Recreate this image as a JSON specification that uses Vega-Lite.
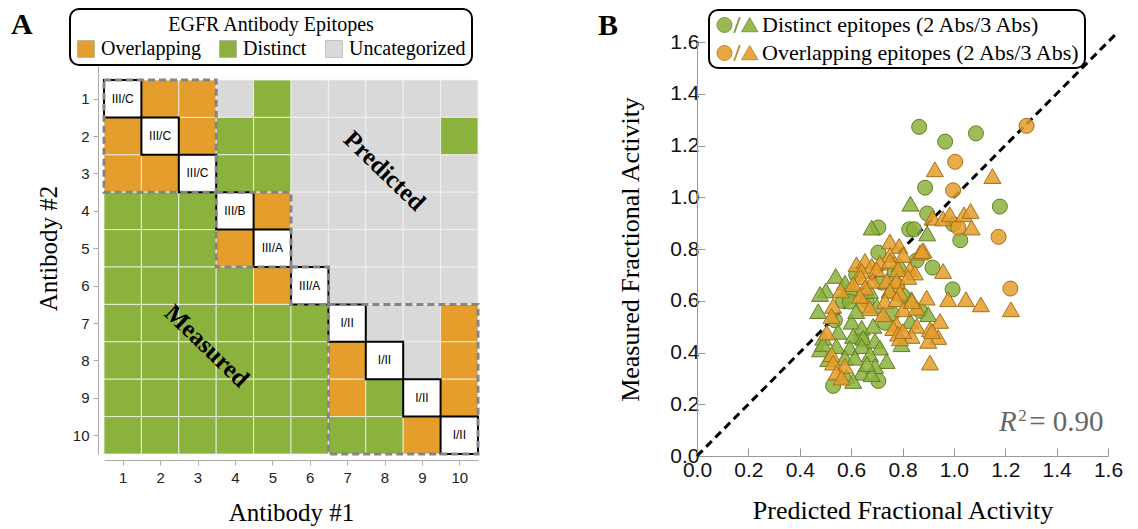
{
  "$schema": "https://vega.github.io/schema/vega-lite/v6.json",
  "padding": {"left": 11, "top": 8, "right": 5, "bottom": 3},
  "spacing": 118,
  "resolve": {"scale": {"color": "independent", "stroke": "independent", "shape": "independent", "size": "independent"}, "legend": {"color": "independent", "stroke": "independent", "shape": "independent", "size": "independent"}},
  "config": {"view": {"stroke": null}, "font": "Liberation Serif", "legend": {"strokeWidth": 2}},
  "datasets": {
    "cells": [
      {"ab1":1,"ab2":1,"epitope":"Self","label":"III/C"},{"ab1":2,"ab2":1,"epitope":"Overlapping"},{"ab1":3,"ab2":1,"epitope":"Overlapping"},{"ab1":4,"ab2":1,"epitope":"Uncategorized"},{"ab1":5,"ab2":1,"epitope":"Distinct"},{"ab1":6,"ab2":1,"epitope":"Uncategorized"},{"ab1":7,"ab2":1,"epitope":"Uncategorized"},{"ab1":8,"ab2":1,"epitope":"Uncategorized"},{"ab1":9,"ab2":1,"epitope":"Uncategorized"},{"ab1":10,"ab2":1,"epitope":"Uncategorized"},
      {"ab1":1,"ab2":2,"epitope":"Overlapping"},{"ab1":2,"ab2":2,"epitope":"Self","label":"III/C"},{"ab1":3,"ab2":2,"epitope":"Overlapping"},{"ab1":4,"ab2":2,"epitope":"Distinct"},{"ab1":5,"ab2":2,"epitope":"Distinct"},{"ab1":6,"ab2":2,"epitope":"Uncategorized"},{"ab1":7,"ab2":2,"epitope":"Uncategorized"},{"ab1":8,"ab2":2,"epitope":"Uncategorized"},{"ab1":9,"ab2":2,"epitope":"Uncategorized"},{"ab1":10,"ab2":2,"epitope":"Distinct"},
      {"ab1":1,"ab2":3,"epitope":"Overlapping"},{"ab1":2,"ab2":3,"epitope":"Overlapping"},{"ab1":3,"ab2":3,"epitope":"Self","label":"III/C"},{"ab1":4,"ab2":3,"epitope":"Distinct"},{"ab1":5,"ab2":3,"epitope":"Distinct"},{"ab1":6,"ab2":3,"epitope":"Uncategorized"},{"ab1":7,"ab2":3,"epitope":"Uncategorized"},{"ab1":8,"ab2":3,"epitope":"Uncategorized"},{"ab1":9,"ab2":3,"epitope":"Uncategorized"},{"ab1":10,"ab2":3,"epitope":"Uncategorized"},
      {"ab1":1,"ab2":4,"epitope":"Distinct"},{"ab1":2,"ab2":4,"epitope":"Distinct"},{"ab1":3,"ab2":4,"epitope":"Distinct"},{"ab1":4,"ab2":4,"epitope":"Self","label":"III/B"},{"ab1":5,"ab2":4,"epitope":"Overlapping"},{"ab1":6,"ab2":4,"epitope":"Uncategorized"},{"ab1":7,"ab2":4,"epitope":"Uncategorized"},{"ab1":8,"ab2":4,"epitope":"Uncategorized"},{"ab1":9,"ab2":4,"epitope":"Uncategorized"},{"ab1":10,"ab2":4,"epitope":"Uncategorized"},
      {"ab1":1,"ab2":5,"epitope":"Distinct"},{"ab1":2,"ab2":5,"epitope":"Distinct"},{"ab1":3,"ab2":5,"epitope":"Distinct"},{"ab1":4,"ab2":5,"epitope":"Overlapping"},{"ab1":5,"ab2":5,"epitope":"Self","label":"III/A"},{"ab1":6,"ab2":5,"epitope":"Uncategorized"},{"ab1":7,"ab2":5,"epitope":"Uncategorized"},{"ab1":8,"ab2":5,"epitope":"Uncategorized"},{"ab1":9,"ab2":5,"epitope":"Uncategorized"},{"ab1":10,"ab2":5,"epitope":"Uncategorized"},
      {"ab1":1,"ab2":6,"epitope":"Distinct"},{"ab1":2,"ab2":6,"epitope":"Distinct"},{"ab1":3,"ab2":6,"epitope":"Distinct"},{"ab1":4,"ab2":6,"epitope":"Distinct"},{"ab1":5,"ab2":6,"epitope":"Overlapping"},{"ab1":6,"ab2":6,"epitope":"Self","label":"III/A"},{"ab1":7,"ab2":6,"epitope":"Uncategorized"},{"ab1":8,"ab2":6,"epitope":"Uncategorized"},{"ab1":9,"ab2":6,"epitope":"Uncategorized"},{"ab1":10,"ab2":6,"epitope":"Uncategorized"},
      {"ab1":1,"ab2":7,"epitope":"Distinct"},{"ab1":2,"ab2":7,"epitope":"Distinct"},{"ab1":3,"ab2":7,"epitope":"Distinct"},{"ab1":4,"ab2":7,"epitope":"Distinct"},{"ab1":5,"ab2":7,"epitope":"Distinct"},{"ab1":6,"ab2":7,"epitope":"Distinct"},{"ab1":7,"ab2":7,"epitope":"Self","label":"I/II"},{"ab1":8,"ab2":7,"epitope":"Uncategorized"},{"ab1":9,"ab2":7,"epitope":"Uncategorized"},{"ab1":10,"ab2":7,"epitope":"Overlapping"},
      {"ab1":1,"ab2":8,"epitope":"Distinct"},{"ab1":2,"ab2":8,"epitope":"Distinct"},{"ab1":3,"ab2":8,"epitope":"Distinct"},{"ab1":4,"ab2":8,"epitope":"Distinct"},{"ab1":5,"ab2":8,"epitope":"Distinct"},{"ab1":6,"ab2":8,"epitope":"Distinct"},{"ab1":7,"ab2":8,"epitope":"Overlapping"},{"ab1":8,"ab2":8,"epitope":"Self","label":"I/II"},{"ab1":9,"ab2":8,"epitope":"Uncategorized"},{"ab1":10,"ab2":8,"epitope":"Overlapping"},
      {"ab1":1,"ab2":9,"epitope":"Distinct"},{"ab1":2,"ab2":9,"epitope":"Distinct"},{"ab1":3,"ab2":9,"epitope":"Distinct"},{"ab1":4,"ab2":9,"epitope":"Distinct"},{"ab1":5,"ab2":9,"epitope":"Distinct"},{"ab1":6,"ab2":9,"epitope":"Distinct"},{"ab1":7,"ab2":9,"epitope":"Overlapping"},{"ab1":8,"ab2":9,"epitope":"Distinct"},{"ab1":9,"ab2":9,"epitope":"Self","label":"I/II"},{"ab1":10,"ab2":9,"epitope":"Overlapping"},
      {"ab1":1,"ab2":10,"epitope":"Distinct"},{"ab1":2,"ab2":10,"epitope":"Distinct"},{"ab1":3,"ab2":10,"epitope":"Distinct"},{"ab1":4,"ab2":10,"epitope":"Distinct"},{"ab1":5,"ab2":10,"epitope":"Distinct"},{"ab1":6,"ab2":10,"epitope":"Distinct"},{"ab1":7,"ab2":10,"epitope":"Distinct"},{"ab1":8,"ab2":10,"epitope":"Distinct"},{"ab1":9,"ab2":10,"epitope":"Overlapping"},{"ab1":10,"ab2":10,"epitope":"Self","label":"I/II"}
    ],
    "blocks": [
      {"first":1,"last":3},{"first":4,"last":5},{"first":6,"last":6},{"first":7,"last":10}
    ],
    "regions": [
      {"ab1":8.0,"ab2":2.93,"text":"Predicted"},
      {"ab1":3.25,"ab2":7.61,"text":"Measured"}
    ],
    "points": [
      {"pred":0.865,"meas":1.272,"epi":"Distinct","abs":"2 Abs"},
      {"pred":1.086,"meas":1.247,"epi":"Distinct","abs":"2 Abs"},
      {"pred":0.966,"meas":1.215,"epi":"Distinct","abs":"2 Abs"},
      {"pred":0.888,"meas":1.037,"epi":"Distinct","abs":"2 Abs"},
      {"pred":1.179,"meas":0.964,"epi":"Distinct","abs":"2 Abs"},
      {"pred":0.896,"meas":0.937,"epi":"Distinct","abs":"2 Abs"},
      {"pred":0.997,"meas":0.896,"epi":"Distinct","abs":"2 Abs"},
      {"pred":0.706,"meas":0.883,"epi":"Distinct","abs":"2 Abs"},
      {"pred":0.826,"meas":0.876,"epi":"Distinct","abs":"2 Abs"},
      {"pred":0.845,"meas":0.876,"epi":"Distinct","abs":"2 Abs"},
      {"pred":1.025,"meas":0.834,"epi":"Distinct","abs":"2 Abs"},
      {"pred":0.706,"meas":0.786,"epi":"Distinct","abs":"2 Abs"},
      {"pred":0.855,"meas":0.756,"epi":"Distinct","abs":"2 Abs"},
      {"pred":0.917,"meas":0.728,"epi":"Distinct","abs":"2 Abs"},
      {"pred":0.77,"meas":0.71,"epi":"Distinct","abs":"2 Abs"},
      {"pred":0.719,"meas":0.67,"epi":"Distinct","abs":"2 Abs"},
      {"pred":0.995,"meas":0.644,"epi":"Distinct","abs":"2 Abs"},
      {"pred":0.595,"meas":0.638,"epi":"Distinct","abs":"2 Abs"},
      {"pred":0.569,"meas":0.599,"epi":"Distinct","abs":"2 Abs"},
      {"pred":0.595,"meas":0.597,"epi":"Distinct","abs":"2 Abs"},
      {"pred":0.537,"meas":0.524,"epi":"Distinct","abs":"2 Abs"},
      {"pred":0.868,"meas":0.561,"epi":"Distinct","abs":"2 Abs"},
      {"pred":0.732,"meas":0.515,"epi":"Distinct","abs":"2 Abs"},
      {"pred":0.53,"meas":0.271,"epi":"Distinct","abs":"2 Abs"},
      {"pred":0.706,"meas":0.29,"epi":"Distinct","abs":"2 Abs"},
      {"pred":0.62,"meas":0.7,"epi":"Distinct","abs":"2 Abs"},
      {"pred":0.66,"meas":0.6,"epi":"Distinct","abs":"2 Abs"},
      {"pred":0.8,"meas":0.62,"epi":"Distinct","abs":"2 Abs"},
      {"pred":0.64,"meas":0.45,"epi":"Distinct","abs":"2 Abs"},
      {"pred":0.76,"meas":0.55,"epi":"Distinct","abs":"2 Abs"},
      {"pred":1.283,"meas":1.276,"epi":"Overlapping","abs":"2 Abs"},
      {"pred":1.005,"meas":1.137,"epi":"Overlapping","abs":"2 Abs"},
      {"pred":0.997,"meas":1.027,"epi":"Overlapping","abs":"2 Abs"},
      {"pred":1.017,"meas":0.883,"epi":"Overlapping","abs":"2 Abs"},
      {"pred":1.174,"meas":0.847,"epi":"Overlapping","abs":"2 Abs"},
      {"pred":1.22,"meas":0.647,"epi":"Overlapping","abs":"2 Abs"},
      {"pred":0.78,"meas":0.66,"epi":"Overlapping","abs":"2 Abs"},
      {"pred":0.65,"meas":0.58,"epi":"Overlapping","abs":"2 Abs"},
      {"pred":0.831,"meas":0.975,"epi":"Distinct","abs":"3 Abs"},
      {"pred":0.68,"meas":0.883,"epi":"Distinct","abs":"3 Abs"},
      {"pred":0.896,"meas":0.86,"epi":"Distinct","abs":"3 Abs"},
      {"pred":0.79,"meas":0.741,"epi":"Distinct","abs":"3 Abs"},
      {"pred":0.54,"meas":0.696,"epi":"Distinct","abs":"3 Abs"},
      {"pred":0.576,"meas":0.67,"epi":"Distinct","abs":"3 Abs"},
      {"pred":0.502,"meas":0.64,"epi":"Distinct","abs":"3 Abs"},
      {"pred":0.479,"meas":0.626,"epi":"Distinct","abs":"3 Abs"},
      {"pred":0.673,"meas":0.638,"epi":"Distinct","abs":"3 Abs"},
      {"pred":0.472,"meas":0.56,"epi":"Distinct","abs":"3 Abs"},
      {"pred":0.602,"meas":0.519,"epi":"Distinct","abs":"3 Abs"},
      {"pred":0.835,"meas":0.606,"epi":"Distinct","abs":"3 Abs"},
      {"pred":0.9,"meas":0.548,"epi":"Distinct","abs":"3 Abs"},
      {"pred":0.83,"meas":0.522,"epi":"Distinct","abs":"3 Abs"},
      {"pred":0.641,"meas":0.496,"epi":"Distinct","abs":"3 Abs"},
      {"pred":0.686,"meas":0.503,"epi":"Distinct","abs":"3 Abs"},
      {"pred":0.796,"meas":0.432,"epi":"Distinct","abs":"3 Abs"},
      {"pred":0.608,"meas":0.464,"epi":"Distinct","abs":"3 Abs"},
      {"pred":0.492,"meas":0.457,"epi":"Distinct","abs":"3 Abs"},
      {"pred":0.647,"meas":0.457,"epi":"Distinct","abs":"3 Abs"},
      {"pred":0.693,"meas":0.445,"epi":"Distinct","abs":"3 Abs"},
      {"pred":0.479,"meas":0.412,"epi":"Distinct","abs":"3 Abs"},
      {"pred":0.543,"meas":0.425,"epi":"Distinct","abs":"3 Abs"},
      {"pred":0.595,"meas":0.419,"epi":"Distinct","abs":"3 Abs"},
      {"pred":0.641,"meas":0.425,"epi":"Distinct","abs":"3 Abs"},
      {"pred":0.712,"meas":0.419,"epi":"Distinct","abs":"3 Abs"},
      {"pred":0.511,"meas":0.374,"epi":"Distinct","abs":"3 Abs"},
      {"pred":0.576,"meas":0.38,"epi":"Distinct","abs":"3 Abs"},
      {"pred":0.615,"meas":0.38,"epi":"Distinct","abs":"3 Abs"},
      {"pred":0.673,"meas":0.393,"epi":"Distinct","abs":"3 Abs"},
      {"pred":0.738,"meas":0.367,"epi":"Distinct","abs":"3 Abs"},
      {"pred":0.693,"meas":0.348,"epi":"Distinct","abs":"3 Abs"},
      {"pred":0.641,"meas":0.322,"epi":"Distinct","abs":"3 Abs"},
      {"pred":0.582,"meas":0.309,"epi":"Distinct","abs":"3 Abs"},
      {"pred":0.608,"meas":0.29,"epi":"Distinct","abs":"3 Abs"},
      {"pred":0.68,"meas":0.316,"epi":"Distinct","abs":"3 Abs"},
      {"pred":0.662,"meas":0.356,"epi":"Distinct","abs":"3 Abs"},
      {"pred":0.49,"meas":0.433,"epi":"Distinct","abs":"3 Abs"},
      {"pred":0.7,"meas":0.58,"epi":"Distinct","abs":"3 Abs"},
      {"pred":0.75,"meas":0.64,"epi":"Distinct","abs":"3 Abs"},
      {"pred":0.62,"meas":0.56,"epi":"Distinct","abs":"3 Abs"},
      {"pred":0.55,"meas":0.48,"epi":"Distinct","abs":"3 Abs"},
      {"pred":0.926,"meas":1.108,"epi":"Overlapping","abs":"3 Abs"},
      {"pred":1.15,"meas":1.082,"epi":"Overlapping","abs":"3 Abs"},
      {"pred":0.917,"meas":0.921,"epi":"Overlapping","abs":"3 Abs"},
      {"pred":0.958,"meas":0.918,"epi":"Overlapping","abs":"3 Abs"},
      {"pred":0.984,"meas":0.934,"epi":"Overlapping","abs":"3 Abs"},
      {"pred":1.039,"meas":0.934,"epi":"Overlapping","abs":"3 Abs"},
      {"pred":1.065,"meas":0.947,"epi":"Overlapping","abs":"3 Abs"},
      {"pred":1.069,"meas":0.883,"epi":"Overlapping","abs":"3 Abs"},
      {"pred":0.751,"meas":0.829,"epi":"Overlapping","abs":"3 Abs"},
      {"pred":0.787,"meas":0.812,"epi":"Overlapping","abs":"3 Abs"},
      {"pred":0.881,"meas":0.795,"epi":"Overlapping","abs":"3 Abs"},
      {"pred":0.751,"meas":0.777,"epi":"Overlapping","abs":"3 Abs"},
      {"pred":0.803,"meas":0.777,"epi":"Overlapping","abs":"3 Abs"},
      {"pred":0.868,"meas":0.786,"epi":"Overlapping","abs":"3 Abs"},
      {"pred":0.621,"meas":0.741,"epi":"Overlapping","abs":"3 Abs"},
      {"pred":0.654,"meas":0.754,"epi":"Overlapping","abs":"3 Abs"},
      {"pred":0.68,"meas":0.735,"epi":"Overlapping","abs":"3 Abs"},
      {"pred":0.712,"meas":0.747,"epi":"Overlapping","abs":"3 Abs"},
      {"pred":0.641,"meas":0.715,"epi":"Overlapping","abs":"3 Abs"},
      {"pred":0.699,"meas":0.722,"epi":"Overlapping","abs":"3 Abs"},
      {"pred":0.751,"meas":0.754,"epi":"Overlapping","abs":"3 Abs"},
      {"pred":0.958,"meas":0.715,"epi":"Overlapping","abs":"3 Abs"},
      {"pred":0.829,"meas":0.722,"epi":"Overlapping","abs":"3 Abs"},
      {"pred":0.783,"meas":0.722,"epi":"Overlapping","abs":"3 Abs"},
      {"pred":0.848,"meas":0.709,"epi":"Overlapping","abs":"3 Abs"},
      {"pred":0.637,"meas":0.692,"epi":"Overlapping","abs":"3 Abs"},
      {"pred":0.684,"meas":0.677,"epi":"Overlapping","abs":"3 Abs"},
      {"pred":0.608,"meas":0.664,"epi":"Overlapping","abs":"3 Abs"},
      {"pred":0.654,"meas":0.651,"epi":"Overlapping","abs":"3 Abs"},
      {"pred":0.738,"meas":0.677,"epi":"Overlapping","abs":"3 Abs"},
      {"pred":0.777,"meas":0.677,"epi":"Overlapping","abs":"3 Abs"},
      {"pred":0.822,"meas":0.692,"epi":"Overlapping","abs":"3 Abs"},
      {"pred":0.751,"meas":0.638,"epi":"Overlapping","abs":"3 Abs"},
      {"pred":0.79,"meas":0.631,"epi":"Overlapping","abs":"3 Abs"},
      {"pred":0.978,"meas":0.606,"epi":"Overlapping","abs":"3 Abs"},
      {"pred":1.047,"meas":0.606,"epi":"Overlapping","abs":"3 Abs"},
      {"pred":1.105,"meas":0.586,"epi":"Overlapping","abs":"3 Abs"},
      {"pred":1.222,"meas":0.567,"epi":"Overlapping","abs":"3 Abs"},
      {"pred":0.559,"meas":0.64,"epi":"Overlapping","abs":"3 Abs"},
      {"pred":0.634,"meas":0.619,"epi":"Overlapping","abs":"3 Abs"},
      {"pred":0.53,"meas":0.58,"epi":"Overlapping","abs":"3 Abs"},
      {"pred":0.524,"meas":0.541,"epi":"Overlapping","abs":"3 Abs"},
      {"pred":0.673,"meas":0.571,"epi":"Overlapping","abs":"3 Abs"},
      {"pred":0.732,"meas":0.599,"epi":"Overlapping","abs":"3 Abs"},
      {"pred":0.777,"meas":0.606,"epi":"Overlapping","abs":"3 Abs"},
      {"pred":0.894,"meas":0.612,"epi":"Overlapping","abs":"3 Abs"},
      {"pred":0.803,"meas":0.567,"epi":"Overlapping","abs":"3 Abs"},
      {"pred":0.855,"meas":0.573,"epi":"Overlapping","abs":"3 Abs"},
      {"pred":0.946,"meas":0.522,"epi":"Overlapping","abs":"3 Abs"},
      {"pred":0.777,"meas":0.509,"epi":"Overlapping","abs":"3 Abs"},
      {"pred":0.764,"meas":0.494,"epi":"Overlapping","abs":"3 Abs"},
      {"pred":0.783,"meas":0.473,"epi":"Overlapping","abs":"3 Abs"},
      {"pred":0.855,"meas":0.503,"epi":"Overlapping","abs":"3 Abs"},
      {"pred":0.907,"meas":0.49,"epi":"Overlapping","abs":"3 Abs"},
      {"pred":0.939,"meas":0.46,"epi":"Overlapping","abs":"3 Abs"},
      {"pred":0.9,"meas":0.445,"epi":"Overlapping","abs":"3 Abs"},
      {"pred":0.835,"meas":0.464,"epi":"Overlapping","abs":"3 Abs"},
      {"pred":0.79,"meas":0.455,"epi":"Overlapping","abs":"3 Abs"},
      {"pred":0.505,"meas":0.477,"epi":"Overlapping","abs":"3 Abs"},
      {"pred":0.524,"meas":0.393,"epi":"Overlapping","abs":"3 Abs"},
      {"pred":0.53,"meas":0.361,"epi":"Overlapping","abs":"3 Abs"},
      {"pred":0.576,"meas":0.348,"epi":"Overlapping","abs":"3 Abs"},
      {"pred":0.907,"meas":0.361,"epi":"Overlapping","abs":"3 Abs"},
      {"pred":0.543,"meas":0.322,"epi":"Overlapping","abs":"3 Abs"},
      {"pred":0.563,"meas":0.303,"epi":"Overlapping","abs":"3 Abs"},
      {"pred":0.725,"meas":0.548,"epi":"Overlapping","abs":"3 Abs"},
      {"pred":0.876,"meas":0.792,"epi":"Overlapping","abs":"3 Abs"},
      {"pred":0.837,"meas":0.599,"epi":"Overlapping","abs":"3 Abs"},
      {"pred":0.802,"meas":0.483,"epi":"Overlapping","abs":"3 Abs"},
      {"pred":0.915,"meas":0.483,"epi":"Overlapping","abs":"3 Abs"}
    ],
    "diagonal": [{"pred":0,"meas":0},{"pred":1.64,"meas":1.64}],
    "r2a": [{"pred":1.245,"meas":0.097,"text":"R"}],
    "r2b": [{"pred":1.251,"meas":0.135,"text":"2"}],
    "r2c": [{"pred":1.293,"meas":0.097,"text":"= 0.90"}]
  },
  "hconcat": [
    {
      "width": 374,
      "height": 412,
      "title": {"text": "A", "anchor": "start", "frame": "group", "fontSize": 30, "font": "Liberation Serif", "fontWeight": "bold", "color": "black", "dx": -93, "dy": 36},
      "layer": [
        {
          "data": {"name": "cells"},
          "transform": [
            {"filter": "datum.epitope != 'Self'"},
            {"calculate": "datum.ab1 - 0.5", "as": "x0"},
            {"calculate": "datum.ab1 + 0.5", "as": "x1"},
            {"calculate": "datum.ab2 - 0.5", "as": "y0"},
            {"calculate": "datum.ab2 + 0.5", "as": "y1"}
          ],
          "mark": {"type": "rect", "stroke": "#f2f2f2", "strokeWidth": 0.8},
          "encoding": {
            "x": {"field": "x0", "type": "quantitative", "title": "Antibody #1",
              "scale": {"domain": [0.5, 10.5], "nice": false, "zero": false},
              "axis": {"values": [1,2,3,4,5,6,7,8,9,10], "grid": false, "offset": 6, "domainColor": "#aaaaaa", "tickColor": "#aaaaaa", "tickSize": 5, "labelFont": "Liberation Sans", "labelFontSize": 15, "labelColor": "#222222", "labelPadding": 5, "titleFont": "Liberation Serif", "titleFontSize": 25, "titleFontWeight": "normal", "titleColor": "black", "titlePadding": 15}},
            "x2": {"field": "x1"},
            "y": {"field": "y0", "type": "quantitative", "title": "Antibody #2",
              "scale": {"domain": [-0.516, 10.5], "reverse": true, "nice": false, "zero": false},
              "axis": {"values": [1,2,3,4,5,6,7,8,9,10], "grid": false, "offset": 6, "domainColor": "#aaaaaa", "tickColor": "#aaaaaa", "tickSize": 5, "labelFont": "Liberation Sans", "labelFontSize": 15, "labelColor": "#222222", "labelPadding": 4, "titleFont": "Liberation Serif", "titleFontSize": 25, "titleFontWeight": "normal", "titleColor": "black", "titlePadding": 11}},
            "y2": {"field": "y1"},
            "color": {"field": "epitope", "type": "nominal",
              "scale": {"domain": ["Overlapping", "Distinct", "Uncategorized"], "range": ["#E59E2B", "#8CB23E", "#D9D9D9"]},
              "legend": {"orient": "none", "legendX": -34, "legendY": -33, "zindex": 2, "fillColor": "white", "direction": "horizontal", "title": "EGFR Antibody Epitopes", "titleAnchor": "middle", "titleLimit": 500, "titleFont": "Liberation Serif", "titleFontSize": 20, "titleFontWeight": "normal", "titleColor": "black", "titlePadding": 4, "symbolType": "square", "symbolSize": 289, "symbolStrokeColor": "#999999", "symbolStrokeWidth": 0.5, "labelFont": "Liberation Serif", "labelFontSize": 20, "labelColor": "black", "labelOffset": 5, "labelLimit": 300, "columnPadding": 17, "padding": 6, "strokeColor": "black", "cornerRadius": 9}}
          }
        },
        {
          "data": {"name": "cells"},
          "transform": [
            {"filter": "datum.epitope == 'Self'"},
            {"calculate": "datum.ab1 - 0.5", "as": "x0"},
            {"calculate": "datum.ab1 + 0.5", "as": "x1"},
            {"calculate": "datum.ab2 - 0.5", "as": "y0"},
            {"calculate": "datum.ab2 + 0.5", "as": "y1"}
          ],
          "mark": {"type": "rect", "fill": "white", "stroke": "black", "strokeWidth": 2},
          "encoding": {
            "x": {"field": "x0", "type": "quantitative", "title": "Antibody #1"},
            "x2": {"field": "x1"},
            "y": {"field": "y0", "type": "quantitative", "title": "Antibody #2"},
            "y2": {"field": "y1"}
          }
        },
        {
          "data": {"name": "cells"},
          "transform": [{"filter": "datum.epitope == 'Self'"}],
          "mark": {"type": "text", "font": "Liberation Sans", "fontSize": 12, "color": "black"},
          "encoding": {
            "x": {"field": "ab1", "type": "quantitative", "title": "Antibody #1"},
            "y": {"field": "ab2", "type": "quantitative", "title": "Antibody #2"},
            "text": {"field": "label"}
          }
        },
        {
          "data": {"name": "blocks"},
          "transform": [
            {"calculate": "datum.first - 0.5", "as": "x0"},
            {"calculate": "datum.last + 0.5", "as": "x1"}
          ],
          "mark": {"type": "rect", "filled": false, "stroke": "#858585", "strokeWidth": 3, "strokeDash": [7, 4], "clip": false},
          "encoding": {
            "x": {"field": "x0", "type": "quantitative", "title": "Antibody #1"},
            "x2": {"field": "x1"},
            "y": {"field": "x0", "type": "quantitative", "title": "Antibody #2"},
            "y2": {"field": "x1"}
          }
        },
        {
          "data": {"name": "regions"},
          "mark": {"type": "text", "font": "Liberation Serif", "fontWeight": "bold", "fontSize": 25, "angle": 44, "color": "black"},
          "encoding": {
            "x": {"field": "ab1", "type": "quantitative", "title": "Antibody #1"},
            "y": {"field": "ab2", "type": "quantitative", "title": "Antibody #2"},
            "text": {"field": "text"}
          }
        }
      ]
    },
    {
      "width": 411,
      "height": 414,
      "title": {"text": "B", "anchor": "start", "frame": "group", "fontSize": 30, "font": "Liberation Serif", "fontWeight": "bold", "color": "black", "dx": -99, "dy": 36},
      "layer": [
        {
          "data": {"name": "diagonal"},
          "mark": {"type": "line", "color": "black", "strokeWidth": 3, "strokeDash": [8, 5], "clip": false},
          "encoding": {
            "x": {"field": "pred", "type": "quantitative", "title": "Predicted Fractional Activity",
              "scale": {"domain": [0, 1.6], "nice": false, "zero": false},
              "axis": {"values": [0,0.05,0.1,0.15,0.2,0.25,0.3,0.35,0.4,0.45,0.5,0.55,0.6,0.65,0.7,0.75,0.8,0.85,0.9,0.95,1,1.05,1.1,1.15,1.2,1.25,1.3,1.35,1.4,1.45,1.5,1.55,1.6],
                "labelExpr": "abs(datum.value*5 - round(datum.value*5)) < 0.001 ? format(datum.value, '.1f') : ''",
                "tickSize": {"condition": {"test": "abs(datum.value*5 - round(datum.value*5)) < 0.001", "value": -8}, "value": -4},
                "grid": false, "domainColor": "#999999", "tickColor": "#999999", "labelFont": "Liberation Sans", "labelFontSize": 21, "labelColor": "#111111", "labelPadding": 11, "labelFlush": false, "titleFont": "Liberation Serif", "titleFontSize": 26, "titleFontWeight": "normal", "titleColor": "black", "titlePadding": 17}},
            "y": {"field": "meas", "type": "quantitative", "title": "Measured Fractional Activity",
              "scale": {"domain": [0, 1.6], "nice": false, "zero": false},
              "axis": {"values": [0,0.05,0.1,0.15,0.2,0.25,0.3,0.35,0.4,0.45,0.5,0.55,0.6,0.65,0.7,0.75,0.8,0.85,0.9,0.95,1,1.05,1.1,1.15,1.2,1.25,1.3,1.35,1.4,1.45,1.5,1.55,1.6],
                "labelExpr": "abs(datum.value*5 - round(datum.value*5)) < 0.001 ? format(datum.value, '.1f') : ''",
                "tickSize": {"condition": {"test": "abs(datum.value*5 - round(datum.value*5)) < 0.001", "value": -8}, "value": -4},
                "grid": false, "domainColor": "#999999", "tickColor": "#999999", "labelFont": "Liberation Sans", "labelFontSize": 21, "labelColor": "#111111", "labelPadding": 6, "labelFlush": false, "titleFont": "Liberation Serif", "titleFontSize": 26, "titleFontWeight": "normal", "titleColor": "black", "titlePadding": 26}}
          }
        },
        {
          "data": {"name": "points"},
          "mark": {"type": "point", "filled": true, "opacity": 1, "fillOpacity": 0.85, "strokeWidth": 1},
          "encoding": {
            "x": {"field": "pred", "type": "quantitative", "title": "Predicted Fractional Activity"},
            "y": {"field": "meas", "type": "quantitative", "title": "Measured Fractional Activity"},
            "color": {"field": "epi", "type": "nominal",
              "scale": {"domain": ["Distinct", "Overlapping"], "range": ["#8CB23E", "#E59E2B"]},
              "legend": {"orient": "none", "legendX": 12, "legendY": -32, "zindex": 2, "fillColor": "white", "title": null,
                "symbolType": "M-2.67,0 A1,1 0 1,0 -0.67,0 A1,1 0 1,0 -2.67,0 Z M-0.42,1 L-0.28,1 L0.42,-1 L0.28,-1 Z M0.6,0.9 L2.8,0.9 L1.7,-1 Z",
                "symbolSize": 225, "symbolOffset": 13, "symbolStrokeColor": "#666666", "symbolStrokeWidth": 0.8, "symbolOpacity": 0.9,
                "labelExpr": "datum.label + ' epitopes (2 Abs/3 Abs)'",
                "labelFont": "Liberation Serif", "labelFontSize": 22, "labelColor": "black", "labelOffset": 14, "labelLimit": 500,
                "rowPadding": 6, "padding": 4, "strokeColor": "black", "cornerRadius": 9}},
            "stroke": {"field": "epi", "type": "nominal",
              "scale": {"domain": ["Distinct", "Overlapping"], "range": ["#5E7E24", "#A5701A"]}, "legend": null},
            "shape": {"field": "abs", "type": "nominal",
              "scale": {"domain": ["2 Abs", "3 Abs"], "range": ["circle", "triangle-up"]}, "legend": null},
            "size": {"field": "abs", "type": "ordinal",
              "scale": {"domain": ["2 Abs", "3 Abs"], "range": [225, 290]}, "legend": null}
          }
        },
        {
          "data": {"name": "r2a"},
          "mark": {"type": "text", "font": "Liberation Serif", "fontStyle": "italic", "fontSize": 29, "color": "#666666", "align": "right", "baseline": "alphabetic"},
          "encoding": {
            "x": {"field": "pred", "type": "quantitative", "title": "Predicted Fractional Activity"},
            "y": {"field": "meas", "type": "quantitative", "title": "Measured Fractional Activity"},
            "text": {"field": "text"}
          }
        },
        {
          "data": {"name": "r2b"},
          "mark": {"type": "text", "font": "Liberation Serif", "fontSize": 17, "color": "#666666", "align": "left", "baseline": "alphabetic"},
          "encoding": {
            "x": {"field": "pred", "type": "quantitative", "title": "Predicted Fractional Activity"},
            "y": {"field": "meas", "type": "quantitative", "title": "Measured Fractional Activity"},
            "text": {"field": "text"}
          }
        },
        {
          "data": {"name": "r2c"},
          "mark": {"type": "text", "font": "Liberation Serif", "fontSize": 29, "color": "#666666", "align": "left", "baseline": "alphabetic"},
          "encoding": {
            "x": {"field": "pred", "type": "quantitative", "title": "Predicted Fractional Activity"},
            "y": {"field": "meas", "type": "quantitative", "title": "Measured Fractional Activity"},
            "text": {"field": "text"}
          }
        }
      ]
    }
  ]
}
